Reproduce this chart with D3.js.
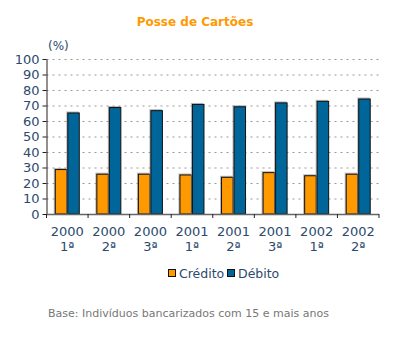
<!DOCTYPE html>
<html><head><meta charset="utf-8">
<script src="https://cdn.jsdelivr.net/npm/d3@7"></script>
<style>body{margin:0;background:#fff}svg{display:block}</style>
</head><body>
<svg id="c" width="404" height="338"></svg>
<script>
const years = ["2000","2000","2000","2001","2001","2001","2002","2002"];
const periods = ["1ª","2ª","3ª","1ª","2ª","3ª","1ª","2ª"];
const credito = [29, 26, 26, 25.5, 24, 27, 25, 26];
const debito = [65.5, 69, 67, 71, 69.5, 72, 73, 74.5];
const seriesNames = ["Crédito","Débito"];
const yTicks = [0,10,20,30,40,50,60,70,80,90,100];

const svg = d3.select("#c");
const font = "DejaVu Sans, Verdana, sans-serif";
const txt = "#2c4a6e";
const colors = ["#ff9900","#006699"];
const L=46.5, R=379, T=59, B=214;
const cats = d3.range(years.length);
const x = d3.scaleBand().domain(cats).range([L,R]).paddingInner(0).paddingOuter(0);
const y = d3.scaleLinear().domain([0,100]).range([B,T]);

// gridlines
svg.append("g").selectAll("line").data(yTicks.filter(d=>d>0)).join("line")
  .attr("x1",L).attr("x2",R).attr("y1",d=>y(d)+0.5).attr("y2",d=>y(d)+0.5)
  .attr("stroke","#999").attr("stroke-dasharray","2,4");

// bars
const bw = 12.5;
const data = cats.map(i=>[credito[i],debito[i]]);
const g = svg.append("g");
cats.forEach(i=>{
  const cx = x(i)+x.bandwidth()/2;
  data[i].forEach((v,j)=>{
    const bx = cx - bw + j*bw;
    g.append("rect").attr("x",bx-1).attr("y",y(v)-1).attr("width",bw).attr("height",B-y(v)+1)
      .attr("fill","#888").attr("opacity",0.6);
    g.append("rect").attr("x",bx+0.5).attr("y",y(v)+0.5).attr("width",bw-1).attr("height",B-y(v)-0.5)
      .attr("fill",colors[j]).attr("stroke","#111").attr("stroke-width",1);
  });
});

// y axis
const ya = svg.append("g").attr("transform",`translate(${L},0)`)
  .call(d3.axisLeft(y).tickValues(yTicks).tickSize(4).tickSizeOuter(0));
ya.select(".domain").attr("stroke","#222");
ya.selectAll(".tick line").attr("stroke","#222");
ya.selectAll("text").attr("fill",txt).style("font-family",font).style("font-size","13px").attr("x",-7);

// x axis
svg.append("line").attr("x1",L).attr("x2",R).attr("y1",B+0.5).attr("y2",B+0.5).attr("stroke","#666").attr("stroke-width",1.5);
svg.append("g").selectAll("line").data(d3.range(years.length+1)).join("line")
  .attr("x1",d=>L+d*x.bandwidth()).attr("x2",d=>L+d*x.bandwidth())
  .attr("y1",B).attr("y2",B+4).attr("stroke","#222");
const xl = svg.append("g").selectAll("text").data(cats).join("text")
  .attr("x",d=>x(d)+x.bandwidth()/2).attr("text-anchor","middle")
  .attr("fill",txt).style("font-family",font).style("font-size","13px");
xl.append("tspan").attr("x",d=>x(d)+x.bandwidth()/2).attr("y",235.5).text(d=>years[d]);
xl.append("tspan").attr("x",d=>x(d)+x.bandwidth()/2).attr("y",251).text(d=>periods[d]);

// title
svg.append("text").attr("x",195).attr("y",26).attr("text-anchor","middle")
  .attr("fill","#ff9900").style("font-family",font).style("font-size","12px").style("font-weight","bold")
  .text("Posse de Cartões");
svg.append("text").attr("x",48).attr("y",50).attr("fill",txt)
  .style("font-family",font).style("font-size","12px").text("(%)");

// legend
const lg = svg.append("g");
const lx = [168, 227];
seriesNames.forEach((n,j)=>{
  lg.append("rect").attr("x",lx[j]+0.5).attr("y",269.5).attr("width",7).attr("height",7)
    .attr("fill",colors[j]).attr("stroke","#111");
  lg.append("text").attr("x",lx[j]+11).attr("y",277.5).attr("fill",txt)
    .style("font-family",font).style("font-size","12.5px").text(n);
});

svg.append("text").attr("x",48).attr("y",317).attr("fill","#777")
  .style("font-family",font).style("font-size","11px")
  .text("Base: Indivíduos bancarizados com 15 e mais anos");
</script>
</body></html>
